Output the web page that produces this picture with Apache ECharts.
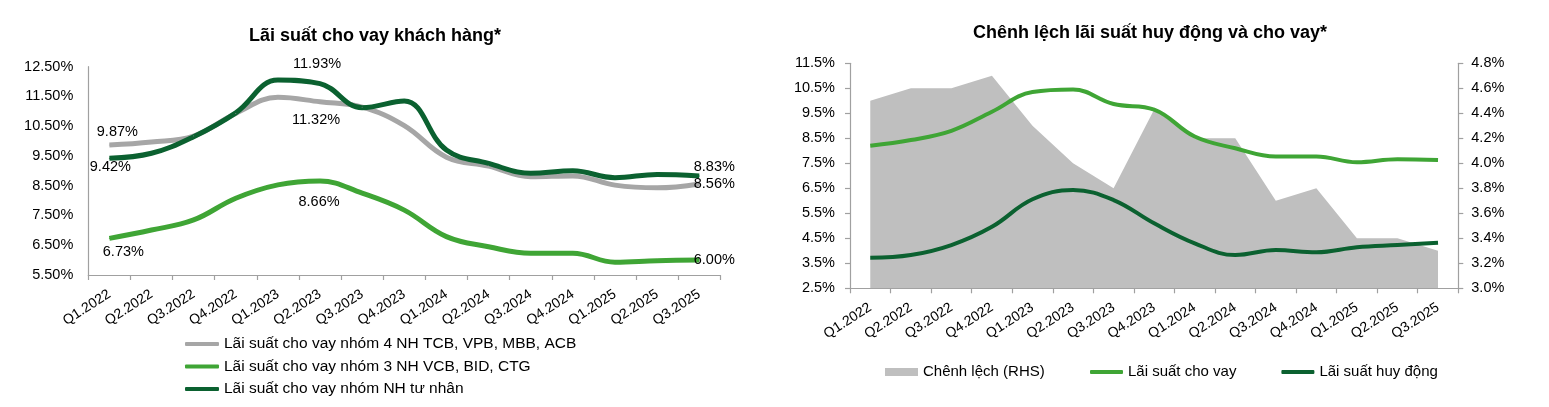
<!DOCTYPE html>
<html>
<head>
<meta charset="utf-8">
<script src="https://cdn.jsdelivr.net/npm/echarts@6/dist/echarts.min.js"></script>
<style>
html,body{margin:0;padding:0;background:#fff;}
#c{width:1549px;height:407px;}
</style>
</head>
<body>
<div id="c"></div>
<script>
// ---------- data ----------
const categories = ['Q1.2022','Q2.2022','Q3.2022','Q4.2022','Q1.2023','Q2.2023','Q3.2023','Q4.2023',
  'Q1.2024','Q2.2024','Q3.2024','Q4.2024','Q1.2025','Q2.2025','Q3.2025'];

// Left chart: Lãi suất cho vay khách hàng (%)
const lendBig4    = [9.87, 9.97, 10.17, 10.93, 11.47, 11.32, 11.14, 10.52, 9.46, 9.16, 8.80, 8.83, 8.52, 8.43, 8.56];
const lendState3  = [6.73, 7.01, 7.35, 8.08, 8.53, 8.66, 8.25, 7.68, 6.79, 6.45, 6.23, 6.23, 5.93, 5.98, 6.00];
const lendPrivate = [9.42, 9.59, 10.15, 10.95, 12.05, 11.93, 11.12, 11.35, 9.70, 9.25, 8.92, 9.00, 8.77, 8.88, 8.83];

// Right chart: Chênh lệch lãi suất huy động và cho vay (%)
const spreadRHS   = [4.5, 4.6, 4.6, 4.7, 4.3, 4.0, 3.8, 4.43, 4.2, 4.2, 3.7, 3.8, 3.4, 3.4, 3.3];
const lendRate    = [8.2, 8.43, 8.8, 9.56, 10.35, 10.45, 9.87, 9.65, 8.57, 8.1, 7.77, 7.77, 7.54, 7.66, 7.63];
const depositRate = [3.72, 3.83, 4.23, 4.96, 6.06, 6.43, 6.03, 5.1, 4.3, 3.83, 4.03, 3.94, 4.14, 4.23, 4.32];

const seriesNames = {
  big4: 'Lãi suất cho vay nhóm 4 NH TCB, VPB, MBB, ACB',
  state3: 'Lãi suất cho vay nhóm 3 NH VCB, BID, CTG',
  priv: 'Lãi suất cho vay nhóm NH tư nhân',
  spread: 'Chênh lệch (RHS)',
  lend: 'Lãi suất cho vay',
  dep: 'Lãi suất huy động'
};

// ---------- styles ----------
const FONT = '"Liberation Sans", Arial, sans-serif';
const AXIS = '#a0a0a0';
const C_GRAY = '#a6a6a6', C_LIGHT = '#3fa535', C_DARK = '#0b6130', C_AREA = '#bfbfbf';

function withLabels(values, cfg) {
  return values.map((v, i) => cfg[i] ? { value: v, label: Object.assign({ show: true }, cfg[i]) } : v);
}
const halfOnly = (digits) => (v) => {
  const r = Math.round(v * 2) / 2;
  return Math.abs(r - Math.floor(r) - 0.5) < 1e-6 ? r.toFixed(digits) + '%' : '';
};
const lbl = { color: '#000', fontSize: 14.5, fontFamily: FONT, formatter: p => Number(p.value).toFixed(2) + '%' };

function xAxisFor(gi) {
  return {
    type: 'category', gridIndex: gi, data: categories, boundaryGap: true,
    axisLine: { show: true, lineStyle: { color: AXIS, width: 1.2 } },
    axisTick: { show: true, length: 5, lineStyle: { color: AXIS, width: 1.2 } },
    axisLabel: { rotate: 33, interval: 0, margin: 18, fontSize: 14, color: '#000', fontFamily: FONT },
    splitLine: { show: false }
  };
}
function leftLine(name, values, color, labels) {
  return { name, type: 'line', xAxisIndex: 0, yAxisIndex: 0, smooth: 0.4,
    symbol: 'circle', symbolSize: 1, showSymbol: true, showAllSymbol: true,
    color, itemStyle: { color }, lineStyle: { width: 5, color }, label: lbl,
    data: withLabels(values, labels) };
}

const option = {
  animation: false,
  backgroundColor: '#fff',
  textStyle: { fontFamily: FONT },
  title: [
    { text: 'Lãi suất cho vay khách hàng*', left: 370, top: 22, textAlign: 'center',
      textStyle: { fontSize: 18, fontWeight: 'bold', color: '#000', fontFamily: FONT } },
    { text: 'Chênh lệch lãi suất huy động và cho vay*', left: 1145, top: 19, textAlign: 'center',
      textStyle: { fontSize: 18, fontWeight: 'bold', color: '#000', fontFamily: FONT } }
  ],
  legend: [
    { data: [seriesNames.big4, seriesNames.state3, seriesNames.priv], orient: 'vertical',
      left: 180, top: 331, itemWidth: 34, itemHeight: 4, itemGap: 6.5, icon: 'roundRect',
      textStyle: { fontSize: 15.5, lineHeight: 16, color: '#000', fontFamily: FONT } },
    { data: [{ name: seriesNames.spread, icon: 'rect' }], left: 880, top: 358.5,
      itemWidth: 33, itemHeight: 8, textStyle: { fontSize: 15, lineHeight: 17, color: '#000', fontFamily: FONT } },
    { data: [seriesNames.lend, seriesNames.dep], left: 1085, top: 358.5, itemGap: 45,
      itemWidth: 33, itemHeight: 4, icon: 'roundRect',
      textStyle: { fontSize: 15, lineHeight: 17, color: '#000', fontFamily: FONT } }
  ],
  grid: [
    { left: 88.3, right: 828.7, top: 66.7, bottom: 132, containLabel: false, outerBoundsMode: 'none' },
    { left: 850, right: 90.7, top: 63.3, bottom: 118.7, containLabel: false, outerBoundsMode: 'none' }
  ],
  xAxis: [xAxisFor(0), xAxisFor(1)],
  yAxis: [
    { type: 'value', gridIndex: 0, position: 'left', min: 5.5, max: 12.5, interval: 0.5,
      axisLine: { show: true, lineStyle: { color: AXIS, width: 1.2 } },
      axisTick: { show: false }, splitLine: { show: false },
      axisLabel: { formatter: halfOnly(2), margin: 15, fontSize: 14.5, color: '#000', fontFamily: FONT } },
    { type: 'value', gridIndex: 1, position: 'left', min: 2.5, max: 11.5, interval: 0.5,
      axisLine: { show: false }, axisTick: { show: false }, splitLine: { show: false },
      axisLabel: { formatter: halfOnly(1), margin: 15, fontSize: 14.5, color: '#000', fontFamily: FONT } },
    { type: 'value', gridIndex: 1, position: 'right', min: 3.0, max: 4.8, interval: 0.2,
      axisLine: { show: true, lineStyle: { color: AXIS, width: 1.2 } },
      axisTick: { show: true, length: 5, lineStyle: { color: AXIS, width: 1.2 } }, splitLine: { show: false },
      axisLabel: { formatter: v => v.toFixed(1) + '%', margin: 13, fontSize: 14.5, color: '#000', fontFamily: FONT } },
    { type: 'value', gridIndex: 1, position: 'left', min: 3.0, max: 4.8, interval: 0.2,
      axisLine: { show: true, lineStyle: { color: AXIS, width: 1.2 } },
      axisTick: { show: true, length: 5, lineStyle: { color: AXIS, width: 1.2 } }, splitLine: { show: false },
      axisLabel: { show: false } }
  ],
  series: [
    leftLine(seriesNames.big4, lendBig4, C_GRAY, {
      0: { position: 'top', offset: [8, 0] },
      5: { position: 'bottom', distance: 10, offset: [-4, 0] },
      14: { position: 'right', offset: [-11, 0] } }),
    leftLine(seriesNames.state3, lendState3, C_LIGHT, {
      0: { position: 'bottom', offset: [14, 1] },
      5: { position: 'bottom', distance: 13, offset: [-1, 0] },
      14: { position: 'right', offset: [-11, 0] } }),
    leftLine(seriesNames.priv, lendPrivate, C_DARK, {
      0: { position: 'bottom', offset: [1, -4] },
      5: { position: 'top', distance: 12, offset: [-3, 0] },
      14: { position: 'right', offset: [-11, -9] } }),
    { name: seriesNames.spread, type: 'line', xAxisIndex: 1, yAxisIndex: 2, smooth: false, symbol: 'none',
      color: C_AREA, lineStyle: { width: 0, color: C_AREA }, areaStyle: { color: C_AREA, opacity: 1, origin: 'start' },
      data: spreadRHS, z: 1 },
    { name: seriesNames.lend, type: 'line', xAxisIndex: 1, yAxisIndex: 1, smooth: 0.4, symbol: 'none',
      color: C_LIGHT, lineStyle: { width: 4, color: C_LIGHT }, data: lendRate, z: 3 },
    { name: seriesNames.dep, type: 'line', xAxisIndex: 1, yAxisIndex: 1, smooth: 0.4, symbol: 'none',
      color: C_DARK, lineStyle: { width: 4, color: C_DARK }, data: depositRate, z: 3 }
  ]
};

const chart = echarts.init(document.getElementById('c'), null, { renderer: 'canvas' });
chart.setOption(option);
</script>
</body>
</html>
